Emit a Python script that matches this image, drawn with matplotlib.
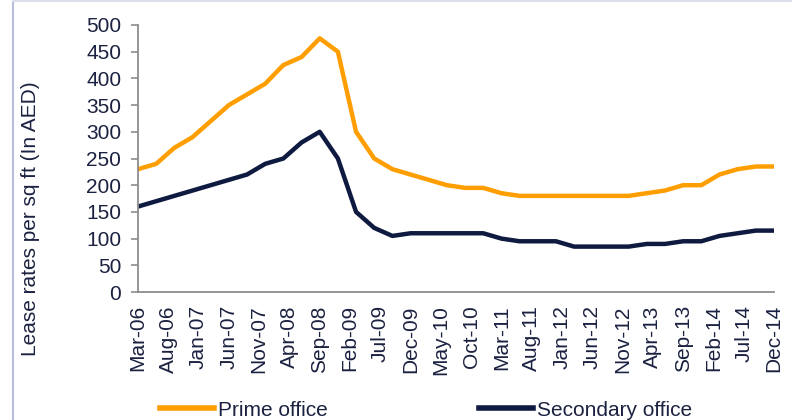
import matplotlib
matplotlib.use('Agg')
import matplotlib.pyplot as plt
from matplotlib.lines import Line2D

# quarterly data, Mar-06 .. Dec-14 (months since Mar-06)
months = list(range(0, 106, 3))
prime = [230, 240, 270, 290, 320, 350, 370, 390, 425, 440, 475, 450,
         300, 250, 230, 220, 210, 200, 195, 195, 185, 180, 180, 180,
         180, 180, 180, 180, 185, 190, 200, 200, 220, 230, 235, 235]
secondary = [160, 170, 180, 190, 200, 210, 220, 240, 250, 280, 300, 250,
             150, 120, 105, 110, 110, 110, 110, 110, 100, 95, 95, 95,
             85, 85, 85, 85, 90, 90, 95, 95, 105, 110, 115, 115]
tick_months = list(range(0, 106, 5))
tick_labels = ['Mar-06', 'Aug-06', 'Jan-07', 'Jun-07', 'Nov-07', 'Apr-08',
               'Sep-08', 'Feb-09', 'Jul-09', 'Dec-09', 'May-10', 'Oct-10',
               'Mar-11', 'Aug-11', 'Jan-12', 'Jun-12', 'Nov-12', 'Apr-13',
               'Sep-13', 'Feb-14', 'Jul-14', 'Dec-14']

orange = '#FF9E00'
navy = '#0E1A40'
txt = '#1B2140'
fs = 15

plt.rcParams['font.family'] = ['Liberation Sans', 'DejaVu Sans']

fig = plt.figure(figsize=(7.92, 4.2), dpi=100)
ax = fig.add_axes([138/792, 1 - 292/420, (774 - 138)/792, (292 - 25)/420])

ax.plot(months, prime, color=orange, lw=3.2, solid_capstyle='round', solid_joinstyle='round')
ax.plot(months, secondary, color=navy, lw=3.2, solid_capstyle='round', solid_joinstyle='round')

ax.set_xlim(0, 105)
ax.set_ylim(0, 500)
ax.set_yticks(range(0, 501, 50))
ax.set_xticks(tick_months)
ax.set_xticklabels(tick_labels, rotation=90, va='top', ha='center')

for s in ['top', 'right']:
    ax.spines[s].set_visible(False)
for s in ['left', 'bottom']:
    ax.spines[s].set_color('#8C8C8C')
    ax.spines[s].set_linewidth(1.3)

ax.tick_params(axis='y', colors='#8C8C8C', labelcolor=txt, labelsize=fs, length=5, width=1.2, pad=7)
ax.tick_params(axis='x', labelcolor=txt, labelsize=fs, length=0, pad=9.5)

fig.text(31/792, 1 - 219/420, 'Lease rates per sq ft (In AED)', rotation=90,
         ha='center', va='center', fontsize=fs, color=txt)

handles = [Line2D([], [], color=orange, lw=4),
           Line2D([], [], color=navy, lw=4)]
fig.legend(handles, ['Prime office', 'Secondary office'], loc='center left',
           bbox_to_anchor=(160/792, 1 - 410/420), ncol=2, frameon=False,
           fontsize=fs, handlelength=2.6, handletextpad=0.2,
           columnspacing=7.25, borderpad=0, borderaxespad=0, labelcolor=txt)

# frame edges from the source slide
fig.add_artist(Line2D([13/792, 13/792], [0, 1], color='#B8BCDD', lw=1.5))
fig.add_artist(Line2D([13/792, 1], [1 - 1/420, 1 - 1/420], color='#DDE0EA', lw=1.5))

fig.savefig('out.png', dpi=100)
